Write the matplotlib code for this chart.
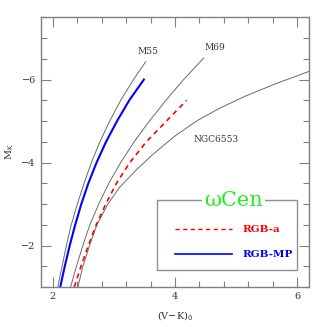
import matplotlib
matplotlib.use("Agg")
import matplotlib.pyplot as plt
from matplotlib.patches import Rectangle
from matplotlib.lines import Line2D
from matplotlib.ticker import MultipleLocator

plt.rcParams['font.family'] = ['DejaVu Serif']

# cluster ridge lines: (V-K)_0 and M_K
m55_vk = [2.08, 2.15, 2.22, 2.30, 2.40, 2.51, 2.63, 2.77, 2.93, 3.11, 3.32, 3.52]
m55_mk = [-1.0, -1.5, -2.0, -2.5, -3.0, -3.5, -4.0, -4.5, -5.0, -5.5, -6.0, -6.43]

m69_vk = [2.29, 2.385, 2.49, 2.605, 2.75, 2.915, 3.11, 3.33, 3.58, 3.85, 4.14, 4.47]
m69_mk = [-1.0, -1.5, -2.0, -2.5, -3.0, -3.5, -4.0, -4.5, -5.0, -5.5, -6.0, -6.52]

ngc_vk = [2.41, 2.49, 2.60, 2.72, 2.90, 3.09, 3.37, 3.64, 3.99, 4.35, 4.72, 5.15, 5.65, 6.20]
ngc_mk = [-1.0, -1.5, -2.0, -2.5, -3.0, -3.4, -3.83, -4.2, -4.63, -5.0, -5.3, -5.6, -5.9, -6.2]

# omega Cen populations
rgba_vk = [2.35, 2.46, 2.58, 2.71, 2.865, 3.04, 3.26, 3.53, 3.86, 4.19]
rgba_mk = [-1.0, -1.5, -2.0, -2.5, -3.0, -3.5, -4.0, -4.5, -5.0, -5.5]

rgbmp_vk = [2.12, 2.194, 2.275, 2.365, 2.465, 2.58, 2.715, 2.87, 3.05, 3.25, 3.49]
rgbmp_mk = [-1.0, -1.5, -2.0, -2.5, -3.0, -3.5, -4.0, -4.5, -5.0, -5.5, -6.0]

fig = plt.figure(figsize=(3.27, 3.27), dpi=100)
ax = fig.add_axes([0.1245, 0.1223, 0.8215, 0.8247])

grey = '#6a6a6a'
ax.plot(m55_vk, m55_mk, color=grey, lw=0.7)
ax.plot(m69_vk, m69_mk, color=grey, lw=0.7)
ax.plot(ngc_vk, ngc_mk, color=grey, lw=0.7)
ax.plot(rgba_vk, rgba_mk, color='red', lw=1.2, ls=(0, (3, 2.5)))
ax.plot(rgbmp_vk, rgbmp_mk, color='blue', lw=1.5)

ax.text(3.56, -6.67, 'M55', fontsize=6.5, color='#333333', ha='center', va='center')
ax.text(4.66, -6.78, 'M69', fontsize=6.5, color='#333333', ha='center', va='center')
ax.text(4.67, -4.55, 'NGC6553', fontsize=6.5, color='#333333', ha='center', va='center')

ax.set_xlim(1.8, 6.2)
ax.set_ylim(-1.0, -7.5)
ax.xaxis.set_major_locator(MultipleLocator(2))
ax.xaxis.set_minor_locator(MultipleLocator(0.4))
ax.yaxis.set_major_locator(MultipleLocator(2))
ax.yaxis.set_minor_locator(MultipleLocator(0.5))
ax.tick_params(which='both', direction='in', top=True, right=True,
               color='#808080', labelsize=7, labelcolor='#333333')
ax.tick_params(which='major', length=7, width=0.8)
ax.tick_params(which='minor', length=4, width=0.8)
for s in ax.spines.values():
    s.set_color('#808080')
    s.set_linewidth(1.0)

ax.set_xlabel(r'(V$-$K)$_0$', fontsize=7, color='#333333', labelpad=6)
ax.set_ylabel(r'M$_{\rm K}$', fontsize=7, color='#333333', labelpad=4)

# legend box
ax.add_patch(Rectangle((0.432, 0.063), 0.523, 0.2585, transform=ax.transAxes,
                       fill=False, edgecolor='#909090', lw=1.0))
ax.text(0.716, 0.3215, 'ωCen', transform=ax.transAxes, color='#22ee22',
        fontsize=15, ha='center', va='center',
        bbox=dict(facecolor='white', edgecolor='none', pad=1.5))
ax.add_line(Line2D([0.5, 0.712], [0.214, 0.214], transform=ax.transAxes,
                   color='red', lw=1.0, ls=(0, (3, 2.5))))
ax.add_line(Line2D([0.5, 0.712], [0.121, 0.121], transform=ax.transAxes,
                   color='blue', lw=1.2))
ax.text(0.75, 0.214, 'RGB-a', transform=ax.transAxes, color='red',
        fontsize=7.5, fontweight='bold', va='center')
ax.text(0.75, 0.121, 'RGB-MP', transform=ax.transAxes, color='blue',
        fontsize=7.5, fontweight='bold', va='center')

fig.savefig('out.png', dpi=100)
